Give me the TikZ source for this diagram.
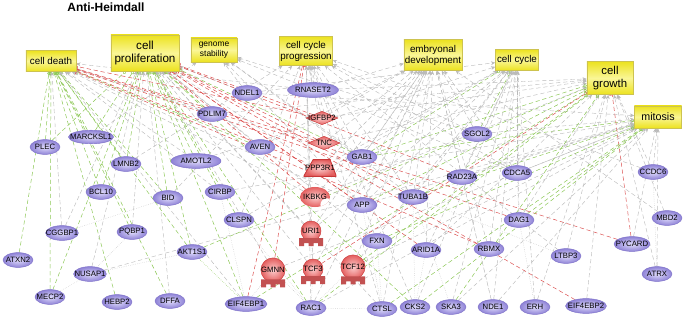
\documentclass[tikz,border=0pt]{standalone}
\usepackage{fontspec}
\setmainfont{Liberation Sans}
\usetikzlibrary{arrows.meta,shapes.geometric,calc}
\definecolor{boxyellow}{RGB}{236,226,30}
\definecolor{boxlight}{RGB}{250,246,150}
\definecolor{boxline}{RGB}{205,195,80}
\definecolor{genein}{RGB}{224,220,252}
\definecolor{geneout}{RGB}{142,130,214}
\definecolor{geneline}{RGB}{125,112,200}
\definecolor{redin}{RGB}{252,205,205}
\definecolor{redout}{RGB}{228,95,95}
\definecolor{redline}{RGB}{200,55,55}
\definecolor{edgegray}{RGB}{186,186,186}
\definecolor{edgegreen}{RGB}{140,200,85}
\definecolor{edgered}{RGB}{220,80,80}
\pgfdeclarelayer{bg}
\pgfdeclarelayer{edges}
\pgfsetlayers{bg,edges,main}
\tikzset{
  title/.style={font=\fontsize{8.5}{9}\selectfont\bfseries},
  box/.style={rectangle,draw=boxline,line width=0.4pt,top color=boxyellow,bottom color=boxyellow,
    middle color=boxlight,align=center,inner sep=0pt,font=\fontsize{7}{7.8}\selectfont},
  gene/.style={ellipse,draw=geneline,line width=0.3pt,inner color=genein,outer color=geneout,
    inner xsep=-5pt,inner ysep=0pt,minimum width=0.75cm,minimum height=0.37cm,
    font=\fontsize{5.5}{6}\selectfont},
  lab/.style={font=\fontsize{5.5}{6}\selectfont},
  redshape/.style={draw=redline,line width=0.3pt,inner color=redin,outer color=redout,
    font=\fontsize{5.5}{6}\selectfont},
  enzyme/.style={redshape,diamond,inner sep=0pt,minimum width=0.8cm,minimum height=0.34cm},
  phos/.style={rectangle,inner sep=0pt,minimum width=0.82cm,minimum height=0.42cm,
    font=\fontsize{5.5}{6}\selectfont,
    path picture={\shade[inner color=redin,outer color=redout,draw=redline,line width=0.6pt]
      ([xshift=0.24cm]path picture bounding box.north west) -- ([xshift=-0.16cm]path picture bounding box.north east)
      -- (path picture bounding box.south east) -- (path picture bounding box.south west) -- cycle;}},
  crescent/.style={redshape,draw=none,ellipse,inner xsep=-5pt,inner ysep=0pt,
    minimum width=0.75cm,minimum height=0.5cm,
    path picture={\fill[white] ([xshift=-2.2pt,yshift=1.6pt]path picture bounding box.south east) circle (4.6pt);}},
  tfac/.style={redshape,circle,inner sep=0pt,minimum size=0.5cm},
  relarrow/.style={draw=edgegray,densely dashed,line width=0.3pt,-{Stealth[length=3pt,width=2.6pt]}},
  actarrow/.style={draw=edgegreen,densely dashed,line width=0.35pt,-{Circle[open,length=2.4pt]}},
  inharrow/.style={draw=edgered,densely dashed,line width=0.35pt,-{Bar[width=4pt]}},
  link/.style={draw=edgegray,densely dotted,line width=0.3pt},
  actlink/.style={draw=edgegreen,densely dotted,line width=0.35pt}
}
\newcommand{\tfbase}[1]{\fill[redout!85!black] ($(#1.south)+(-12,-3)$) -- ++(24,0) -- ++(0,8)
  -- ++(-5,0) -- ++(0,-3) -- ++(-4.5,0) -- ++(0,3) -- ++(-5,0) -- ++(0,-3) -- ++(-4.5,0)
  -- ++(0,3) -- ++(-5,0) -- cycle;}
\begin{document}
\begin{tikzpicture}[x=0.025cm,y=-0.025cm]
  \begin{pgfonlayer}{bg}
    \fill[white] (0,0) rectangle (685,322);
  \end{pgfonlayer}
  \useasboundingbox (0,0) rectangle (685,322);

  \node[title] (head) at (106,7) {Anti-Heimdall};

  \node[box,minimum width=1.25cm,minimum height=0.525cm] (cdeath) at (51,61) {cell death};
  \node[box,minimum width=1.7cm,minimum height=0.9cm,font=\fontsize{8.3}{9.4}\selectfont] (cprolif) at (145,53) {cell\\proliferation};
  \node[box,minimum width=1.15cm,minimum height=0.6cm,font=\fontsize{6}{6.8}\selectfont] (gstab) at (214,50) {genome\\stability};
  \node[box,minimum width=1.325cm,minimum height=0.725cm] (ccprog) at (306,51) {cell cycle\\progression};
  \node[box,minimum width=1.45cm,minimum height=0.775cm] (embdev) at (433,55) {embryonal\\development};
  \node[box,minimum width=1.075cm,minimum height=0.525cm] (ccycle) at (517,60) {cell cycle};
  \node[box,minimum width=1.15cm,minimum height=0.825cm,font=\fontsize{8.1}{9.2}\selectfont] (cgrowth) at (610,78) {cell\\growth};
  \node[box,minimum width=1.175cm,minimum height=0.55cm,font=\fontsize{7.6}{8}\selectfont] (mitosis) at (658,117) {mitosis};

  \node[gene] (NDEL1) at (247,93) {NDEL1};
  \node[gene,minimum width=1.275cm] (RNASET2) at (313,90) {RNASET2};
  \node[gene] (PDLIM7) at (212,114) {PDLIM7};
  \node[gene] (PLEC) at (45,147) {PLEC};
  \node[gene,minimum width=1.125cm,minimum height=0.34cm] (MARCKSL1) at (91,137) {MARCKSL1};
  \node[gene] (AVEN) at (260,147) {AVEN};
  \node[gene] (LMNB2) at (126,164) {LMNB2};
  \node[gene,minimum width=1.25cm] (AMOTL2) at (196,161) {AMOTL2};
  \node[gene] (BCL10) at (101,192) {BCL10};
  \node[gene] (BID) at (168,198) {BID};
  \node[gene] (CIRBP) at (220,192) {CIRBP};
  \node[gene] (CLSPN) at (239,220) {CLSPN};
  \node[gene,minimum width=0.82cm] (CGGBP1) at (62,233) {CGGBP1};
  \node[gene] (PQBP1) at (132,232) {PQBP1};
  \node[gene] (AKT1S1) at (192,252) {AKT1S1};
  \node[gene] (ATXN2) at (18,260) {ATXN2};
  \node[gene,minimum width=0.82cm] (NUSAP1) at (90,274) {NUSAP1};
  \node[gene] (MECP2) at (50,297) {MECP2};
  \node[gene] (HEBP2) at (117,302) {HEBP2};
  \node[gene] (DFFA) at (170,301) {DFFA};
  \node[gene,minimum width=1.05cm] (EIF4EBP1) at (246,304) {EIF4EBP1};
  \node[gene] (RAC1) at (311,308) {RAC1};
  \node[gene] (GAB1) at (362,157) {GAB1};
  \node[gene] (APP) at (362,205) {APP};
  \node[gene] (TUBA1B) at (413,197) {TUBA1B};
  \node[gene] (RAD23A) at (462,177) {RAD23A};
  \node[gene] (CDCA5) at (517,173) {CDCA5};
  \node[gene] (SGOL2) at (477,134) {SGOL2};
  \node[gene] (CCDC6) at (653,172) {CCDC6};
  \node[gene] (MBD2) at (667,218) {MBD2};
  \node[gene] (DAG1) at (519,220) {DAG1};
  \node[gene,minimum width=0.9cm] (PYCARD) at (632,244) {PYCARD};
  \node[gene] (FXN) at (377,241) {FXN};
  \node[gene] (ARID1A) at (426,250) {ARID1A};
  \node[gene] (RBMX) at (489,249) {RBMX};
  \node[gene] (LTBP3) at (566,256) {LTBP3};
  \node[gene] (ATRX) at (657,274) {ATRX};
  \node[gene] (CTSL) at (382,309) {CTSL};
  \node[gene] (CKS2) at (415,307) {CKS2};
  \node[gene] (SKA3) at (451,307) {SKA3};
  \node[gene] (NDE1) at (493,307) {NDE1};
  \node[gene] (ERH) at (535,307) {ERH};
  \node[gene,minimum width=1.025cm] (EIF4EBP2) at (586,306) {EIF4EBP2};

  \node[enzyme,label={[lab]center:IGFBP2}] (IGFBP2) at (322,118) {};
  \node[enzyme,label={[lab]center:TNC}] (TNC) at (324,143) {};
  \node[phos] (PPP3R1) at (320,168) {PPP3R1};
  \node[crescent] (IKBKG) at (315,197) {IKBKG};
  \node[tfac] (URI1) at (311,231) {URI1};
  \node[tfac] (GMNN) at (273,270) {GMNN};
  \node[tfac] (TCF3) at (313,269) {TCF3};
  \node[tfac] (TCF12) at (353,267) {TCF12};
  \tfbase{URI1}
  \tfbase{GMNN}
  \tfbase{TCF3}
  \tfbase{TCF12}

  \begin{pgfonlayer}{edges}
  \path (PLEC) edge[actarrow] (cdeath) edge[actarrow] (cprolif);
  \path (MARCKSL1) edge[actarrow] (cdeath) edge[actarrow] (cprolif) edge[relarrow] (gstab);
  \path (LMNB2) edge[actarrow] (cdeath) edge[actarrow] (cprolif) edge[relarrow] (ccprog);
  \path (BCL10) edge[actarrow] (cdeath) edge[actarrow] (cprolif);
  \path (ATXN2) edge[actarrow] (cdeath);
  \path (MECP2) edge[actarrow] (cdeath) edge[actarrow] (cprolif);
  \path (CGGBP1) edge[relarrow] (cdeath) edge[relarrow] (cprolif);
  \path (HEBP2) edge[actarrow] (cdeath);
  \path (NUSAP1) edge[relarrow] (cprolif) edge[relarrow] (mitosis);
  \path (PQBP1) edge[actarrow] (cdeath) edge[relarrow] (cprolif);
  \path (DFFA) edge[actarrow] (cdeath) edge[relarrow] (cprolif);
  \path (BID) edge[actarrow] (cdeath) edge[actarrow] (cprolif) edge[relarrow] (ccprog);
  \path (AKT1S1) edge[actarrow] (cdeath) edge[actarrow] (cprolif) edge[actarrow] (cgrowth);
  \path (AMOTL2) edge[actarrow] (cprolif) edge[relarrow] (cdeath) edge[relarrow] (ccycle);
  \path (CIRBP) edge[actarrow] (cprolif) edge[relarrow] (cdeath) edge[relarrow] (mitosis);
  \path (CLSPN) edge[actarrow] (cprolif) edge[relarrow] (ccprog) edge[relarrow] (ccycle);
  \path (PDLIM7) edge[actarrow] (cprolif) edge[relarrow] (cdeath) edge[relarrow] (cgrowth);
  \path (AVEN) edge[actarrow] (cdeath) edge[relarrow] (cprolif) edge[relarrow] (embdev);
  \path (NDEL1) edge[relarrow] (cprolif) edge[relarrow] (gstab) edge[relarrow] (mitosis) edge[relarrow] (ccycle);
  \path (RNASET2) edge[relarrow] (cdeath) edge[relarrow] (ccprog) edge[relarrow] (embdev) edge[relarrow] (cgrowth);
  \path (EIF4EBP1) edge[actarrow] (cprolif) edge[inharrow] (ccprog) edge[actarrow] (cgrowth) edge[relarrow] (cdeath);
  \path (RAC1) edge[actarrow] (cprolif) edge[relarrow] (ccprog) edge[actarrow] (cgrowth) edge[relarrow] (embdev) edge[relarrow] (mitosis);
  \path (IGFBP2) edge[inharrow] (cdeath) edge[inharrow] (cprolif) edge[relarrow] (ccprog) edge[relarrow] (cgrowth) edge[relarrow] (embdev);
  \path (TNC) edge[inharrow] (cdeath) edge[inharrow] (cprolif) edge[relarrow] (ccprog) edge[relarrow] (cgrowth) edge[relarrow] (embdev);
  \path (PPP3R1) edge[inharrow] (cdeath) edge[relarrow] (cprolif) edge[relarrow] (embdev) edge[relarrow] (ccycle);
  \path (IKBKG) edge[inharrow] (cprolif) edge[relarrow] (cdeath) edge[relarrow] (cgrowth) edge[relarrow] (embdev);
  \path (URI1) edge[relarrow] (ccprog) edge[relarrow] (embdev) edge[relarrow] (cprolif) edge[relarrow] (ccycle);
  \path (GMNN) edge[inharrow] (ccprog) edge[relarrow] (cprolif) edge[relarrow] (mitosis);
  \path (TCF3) edge[inharrow] (cgrowth) edge[relarrow] (ccprog) edge[relarrow] (embdev) edge[relarrow] (cprolif);
  \path (TCF12) edge[actarrow] (cgrowth) edge[relarrow] (embdev) edge[relarrow] (ccycle) edge[relarrow] (mitosis);
  \path (GAB1) edge[actarrow] (cprolif) edge[actarrow] (ccycle) edge[actarrow] (cgrowth) edge[relarrow] (gstab) edge[relarrow] (embdev) edge[relarrow] (ccprog) edge[actarrow] (mitosis);
  \path (APP) edge[inharrow] (cprolif) edge[relarrow] (cdeath) edge[relarrow] (gstab) edge[relarrow] (embdev) edge[relarrow] (ccycle) edge[actarrow] (cgrowth) edge[relarrow] (mitosis);
  \path (TUBA1B) edge[inharrow] (cprolif) edge[relarrow] (gstab) edge[relarrow] (ccprog) edge[relarrow] (embdev) edge[actarrow] (mitosis) edge[relarrow] (ccycle);
  \path (RAD23A) edge[inharrow] (cprolif) edge[relarrow] (ccycle) edge[relarrow] (mitosis) edge[relarrow] (embdev);
  \path (SGOL2) edge[relarrow] (gstab) edge[relarrow] (ccprog) edge[relarrow] (embdev) edge[actarrow] (ccycle) edge[relarrow] (mitosis);
  \path (CDCA5) edge[relarrow] (gstab) edge[relarrow] (ccprog) edge[relarrow] (ccycle) edge[relarrow] (mitosis) edge[relarrow] (embdev);
  \path (CCDC6) edge[relarrow] (ccprog) edge[relarrow] (cgrowth) edge[relarrow] (mitosis);
  \path (MBD2) edge[relarrow] (cgrowth) edge[relarrow] (embdev);
  \path (DAG1) edge[inharrow] (cdeath) edge[relarrow] (ccycle) edge[actarrow] (mitosis) edge[relarrow] (cgrowth);
  \path (PYCARD) edge[inharrow] (cdeath) edge[inharrow] (cgrowth) edge[relarrow] (mitosis);
  \path (FXN) edge[actarrow] (mitosis) edge[relarrow] (ccprog) edge[relarrow] (cprolif);
  \path (ARID1A) edge[inharrow] (cprolif) edge[relarrow] (embdev) edge[relarrow] (cgrowth) edge[relarrow] (ccycle);
  \path (RBMX) edge[inharrow] (cdeath) edge[relarrow] (ccycle) edge[relarrow] (embdev);
  \path (LTBP3) edge[relarrow] (cgrowth) edge[relarrow] (ccprog);
  \path (ATRX) edge[relarrow] (mitosis) edge[relarrow] (cgrowth);
  \path (CTSL) edge[actarrow] (mitosis) edge[relarrow] (embdev) edge[relarrow] (ccprog) edge[relarrow] (cprolif);
  \path (CKS2) edge[actarrow] (mitosis) edge[relarrow] (ccprog) edge[relarrow] (ccycle) edge[actarrow] (cprolif);
  \path (SKA3) edge[actarrow] (cgrowth) edge[relarrow] (mitosis) edge[relarrow] (ccycle);
  \path (NDE1) edge[relarrow] (mitosis) edge[relarrow] (ccycle) edge[relarrow] (embdev);
  \path (ERH) edge[relarrow] (ccycle) edge[relarrow] (cgrowth);
  \path (EIF4EBP2) edge[inharrow] (cprolif) edge[relarrow] (cgrowth);
  \path[link] (CGGBP1) edge (BID) (NUSAP1) edge (AKT1S1) edge (MECP2) edge (PQBP1)
    (GMNN) edge (RAC1) edge (EIF4EBP1) (TCF3) edge (RAC1) (TCF12) edge (RAC1) (URI1) edge (TCF3)
    (RAC1) edge (CTSL) (CTSL) edge (APP) edge (FXN) (CKS2) edge (TUBA1B) edge (ARID1A)
    (SKA3) edge (TUBA1B) (NDE1) edge (RAD23A) (CDCA5) edge (DAG1) (DAG1) edge (ERH)
    (CCDC6) edge (ATRX) (CLSPN) edge (RAC1) (CIRBP) edge (EIF4EBP1) (LTBP3) edge (TUBA1B);
  \path (AKT1S1) edge[actlink] (EIF4EBP1);
  \end{pgfonlayer}
\end{tikzpicture}
\end{document}
